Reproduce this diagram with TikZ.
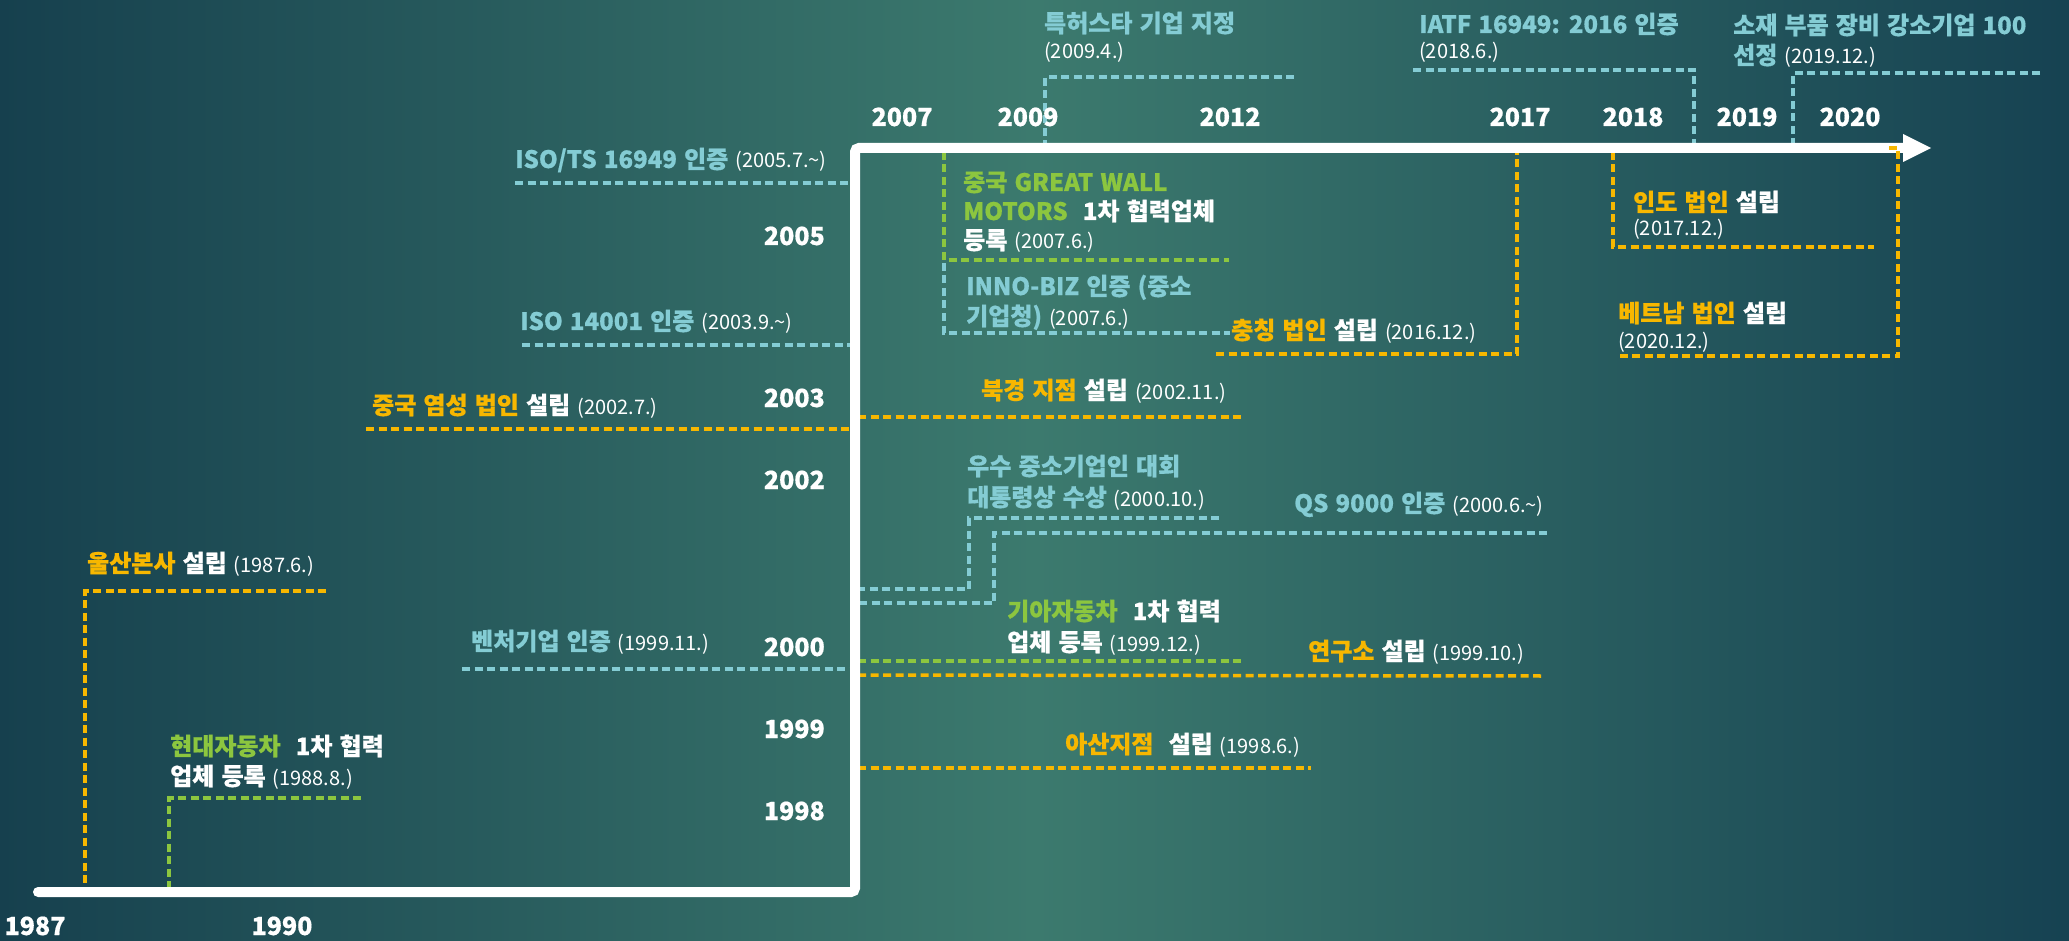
\documentclass[tikz,border=0pt]{standalone}
\usepackage{fontspec}
\setmainfont{Noto Sans CJK KR}[WordSpace=1.3, BoldFeatures={FakeBold=0.6}]
\definecolor{ylw}{RGB}{247,183,0}
\definecolor{grn}{RGB}{140,198,63}
\definecolor{blu}{RGB}{132,204,212}
\definecolor{bgL}{RGB}{22,64,78}
\definecolor{bgM}{RGB}{60,122,110}
\definecolor{bgR}{RGB}{22,66,82}
\newcommand\dte[1]{{\color{white}\mdseries\fontsize{20}{24}\selectfont #1}}
\begin{document}
\begin{tikzpicture}[x=1pt,y=-1pt,
  lbl/.style={inner sep=0pt, anchor=base west, font=\fontsize{24}{29}\selectfont\bfseries, text=white},
  bl/.style={lbl, text=blu},
  yr/.style={inner sep=0pt, anchor=base, font=\fontsize{25}{30}\selectfont\bfseries, text=white},
  vyr/.style={yr, anchor=base east},
  lead/.style={line width=3.5pt, dash pattern=on 8pt off 4.5pt},
  ylead/.style={lead, draw=ylw},
  glead/.style={lead, draw=grn},
  blead/.style={lead, draw=blu},
  axis/.style={draw=white, line width=10pt, line cap=round, rounded corners=4pt}
]
\useasboundingbox (0,0) rectangle (2069,941);
% background
\shade[left color=bgL, right color=bgR, middle color=bgM] (0,0) rectangle (2069,941);

% timeline coordinates
\coordinate (tA) at (38,892);
\coordinate (tB) at (855,892);
\coordinate (tC) at (855,148);
\coordinate (tD) at (1905,148);
\coordinate (tip) at (1931,148);

% leader lines
\draw[ylead] (326,591) -- (85,591) -- (85,890);
\draw[glead] (361,798) -- (169,798) -- (169,890);
\draw[blead] (462,669) -- (852,669);
\draw[blead] (515,183) -- (852,183);
\draw[blead] (522,345) -- (852,345);
\draw[ylead] (366,429) -- (852,429);
\draw[blead] (944,263) -- (944,333) -- (1230,333);
\draw[glead] (944,152) -- (944,260) -- (1229,260);
\draw[blead] (1294,77) -- (1045,77) -- (1045,146);
\draw[ylead] (858,417) -- (1242,417);
\draw[ylead] (1216,354) -- (1517,354) -- (1517,152);
\draw[ylead] (1613,152) -- (1613,247) -- (1874,247);
\draw[blead] (1413,70) -- (1694,70) -- (1694,144);
\draw[blead] (2040,73) -- (1793,73) -- (1793,144);
\draw[blead] (1219,518) -- (969,518) -- (969,589) -- (858,589);
\draw[blead] (1547,533) -- (994,533) -- (994,603) -- (858,603);
\draw[glead] (858,661) -- (1242,661);
\draw[ylead] (858,675) -- (1543,676);
\draw[ylead] (858,768) -- (1311,768);

% timeline
\draw[axis] (tA) -- (tB) -- (tC) -- (tD);
\fill[white] (1903,134) -- (tip) -- (1903,162) -- cycle;
\draw[ylead] (1889,148) -- (1898,148) -- (1898,356) -- (1620,356);

% years
\node[yr] (y1987) at (35,935) {1987};
\node[yr] (y1990) at (282,935) {1990};
\node[vyr] (y1998) at (825,820) {1998};
\node[vyr] (y1999) at (825,738) {1999};
\node[vyr] (y2000) at (825,656) {2000};
\node[vyr] (y2002) at (825,489) {2002};
\node[vyr] (y2003) at (825,407) {2003};
\node[vyr] (y2005) at (825,245) {2005};
\node[yr] (y2007) at (902,126) {2007};
\node[yr] (y2009) at (1028,126) {2009};
\node[yr] (y2012) at (1230,126) {2012};
\node[yr] (y2017) at (1520,126) {2017};
\node[yr] (y2018) at (1633,126) {2018};
\node[yr] (y2019) at (1747,126) {2019};
\node[yr] (y2020) at (1850,126) {2020};

% events
\node[lbl] (e1) at (87,572) {\textcolor{ylw}{울산본사} 설립 \dte{(1987.6.)}};
\node[lbl] (e2a) at (170,755) {\textcolor{grn}{현대자동차}\hspace{8pt} 1차 협력};
\node[lbl] (e2b) at (170,785) {업체 등록 \dte{(1988.8.)}};
\node[bl] (e3) at (471,650) {벤처기업 인증 \dte{(1999.11.)}};
\node[bl] (e4) at (515,168) {ISO/TS 16949 인증 \dte{(2005.7.\textasciitilde)}};
\node[bl] (e5) at (520,330) {ISO 14001 인증 \dte{(2003.9.\textasciitilde)}};
\node[lbl] (e6) at (372,414) {\textcolor{ylw}{중국 염성 법인} 설립 \dte{(2002.7.)}};
\node[lbl] (e7a) at (963,191) {\textcolor{grn}{중국 GREAT WALL}};
\node[lbl] (e7b) at (963,220) {\textcolor{grn}{MOTORS}\hspace{8pt} 1차 협력업체};
\node[lbl] (e7c) at (963,249) {등록 \dte{(2007.6.)}};
\node[bl] (e8a) at (966,295) {INNO-BIZ 인증 (중소};
\node[bl] (e8b) at (966,325) {기업청) \dte{(2007.6.)}};
\node[bl] (e9a) at (1044,32) {특허스타 기업 지정};
\node[lbl] (e9b) at (1044,59) {\dte{(2009.4.)}};
\node[lbl] (e10) at (981,399) {\textcolor{ylw}{북경 지점} 설립 \dte{(2002.11.)}};
\node[lbl] (e11) at (1231,339) {\textcolor{ylw}{충칭 법인} 설립 \dte{(2016.12.)}};
\node[lbl] (e12a) at (1633,211) {\textcolor{ylw}{인도 법인} 설립};
\node[lbl] (e12b) at (1633,236) {\dte{(2017.12.)}};
\node[lbl] (e13a) at (1618,322) {\textcolor{ylw}{베트남 법인} 설립};
\node[lbl] (e13b) at (1618,348) {\dte{(2020.12.)}};
\node[bl] (e14a) at (1419,33) {IATF 16949: 2016 인증};
\node[lbl] (e14b) at (1419,59) {\dte{(2018.6.)}};
\node[bl] (e15a) at (1733,34) {소재 부품 장비 강소기업 100};
\node[bl] (e15b) at (1733,64) {선정 \dte{(2019.12.)}};
\node[bl] (e16a) at (967,475) {우수 중소기업인 대회};
\node[bl] (e16b) at (967,506) {대통령상 수상 \dte{(2000.10.)}};
\node[bl] (e17) at (1294,512) {QS 9000 인증 \dte{(2000.6.\textasciitilde)}};
\node[lbl] (e18a) at (1007,620) {\textcolor{grn}{기아자동차}\hspace{8pt} 1차 협력};
\node[lbl] (e18b) at (1007,651) {업체 등록 \dte{(1999.12.)}};
\node[lbl] (e19) at (1308,660) {\textcolor{ylw}{연구소} 설립 \dte{(1999.10.)}};
\node[lbl] (e20) at (1065,753) {\textcolor{ylw}{아산지점}\hspace{8pt} 설립 \dte{(1998.6.)}};
\end{tikzpicture}
\end{document}
